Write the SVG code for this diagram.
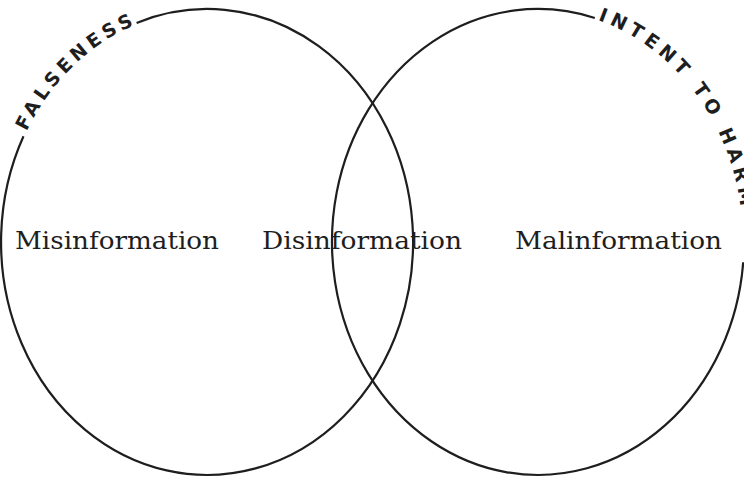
<svg xmlns="http://www.w3.org/2000/svg" width="744" height="479" viewBox="0 0 744 479">
  <style>
    .ring { fill: none; stroke: #1e1e1e; stroke-width: 2.2; }
    .arc-label { font-family: "DejaVu Sans", "Liberation Sans", sans-serif; font-weight: 700; font-size: 19px; letter-spacing: 4.8px; fill: #1e1e1e; }
    .arc-label.tight { letter-spacing: 4.3px; }
    .term { font-family: "DejaVu Serif", "Liberation Serif", serif; font-size: 24px; fill: #1e1e1e; }
  </style>
  <defs>
    <path id="pathFalse" d="M2.1,233.9 A205,232 0 0 1 214.2,10.1"/>
    <path id="pathHarm" d="M555.9,10.9 A205,232 0 0 1 742.2,262.2"/>
  </defs>
  <rect width="744" height="479" fill="#ffffff"/>
  <g id="falseness">
    <path class="ring" d="M136.6,23.0 A206,233 0 1 1 23.5,136.2"/>
    <text class="arc-label tight"><textPath href="#pathFalse" startOffset="106">FALSENESS</textPath></text>
  </g>
  <g id="intent-to-harm">
    <path class="ring" d="M743.2,262.3 A206,233 0 1 1 594.8,18.0"/>
    <text class="arc-label"><textPath href="#pathHarm" startOffset="43">INTENT TO HARM</textPath></text>
  </g>
  <g id="misinformation">
    <text class="term" x="15" y="249" textLength="204" lengthAdjust="spacingAndGlyphs">Misinformation</text>
  </g>
  <g id="disinformation">
    <text class="term" x="262" y="249" textLength="200" lengthAdjust="spacingAndGlyphs">Disinformation</text>
  </g>
  <g id="malinformation">
    <text class="term" x="515" y="249" textLength="207" lengthAdjust="spacingAndGlyphs">Malinformation</text>
  </g>
  <g id="connectors"></g>
</svg>
